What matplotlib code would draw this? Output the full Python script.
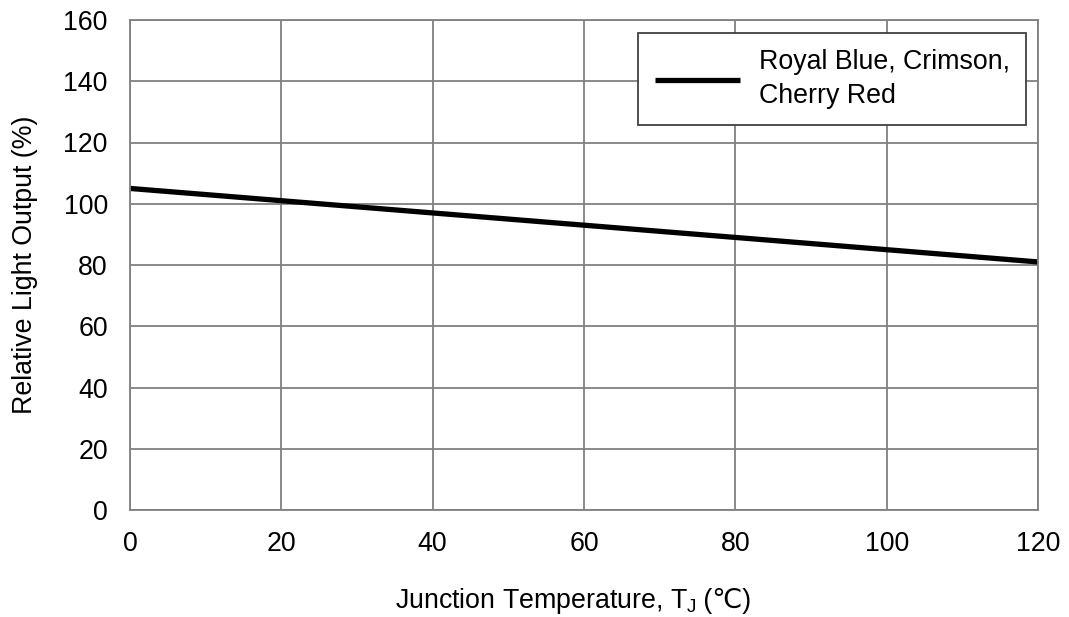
import matplotlib
matplotlib.use("Agg")
import matplotlib.pyplot as plt
from matplotlib.offsetbox import TextArea, HPacker, AnnotationBbox

temps = [0, 120]
light_output = [105, 81]
series_label = "Royal Blue, Crimson,\nCherry Red"
x_ticks = [0, 20, 40, 60, 80, 100, 120]
y_ticks = [0, 20, 40, 60, 80, 100, 120, 140, 160]

plt.rcParams['font.family'] = ['Liberation Sans', 'DejaVu Sans']
plt.rcParams['mathtext.fontset'] = 'custom'
plt.rcParams['mathtext.rm'] = 'Liberation Sans'
plt.rcParams['mathtext.it'] = 'Liberation Sans'

FS = 19.3

fig = plt.figure(figsize=(10.69, 6.17), dpi=100)
ax = fig.add_axes([130/1069, 1-510/617, 908/1069, 490/617])

ax.plot(temps, light_output, color='black', lw=3.8, label=series_label, solid_capstyle='butt')
ax.set_xlim(0, 120)
ax.set_ylim(0, 160)
ax.set_xticks(x_ticks)
ax.set_yticks(y_ticks)
ax.grid(True, color='#808080', lw=1.3)
ax.set_axisbelow(True)
for s in ax.spines.values():
    s.set_color('#808080')
    s.set_linewidth(1.3)
ax.tick_params(length=0, labelsize=FS, colors='black')
ax.tick_params(axis='x', pad=15)
ax.tick_params(axis='y', pad=16)

ax.set_ylabel('Relative Light Output (%)', fontsize=FS, labelpad=18)

# x label built from pieces so the degree-Celsius sign can fall back to DejaVu Sans
part1 = TextArea('Junction Temperature, T$_{\\mathrm{J}}$', textprops=dict(fontsize=FS))
part2 = TextArea(' (\u2103)', textprops=dict(fontsize=FS, family=['Liberation Sans', 'DejaVu Sans']))
label_box = HPacker(children=[part1, part2], align='baseline', pad=0, sep=0)
ab = AnnotationBbox(label_box, (573/1069, 1-601/617), xycoords='figure fraction',
                    frameon=False, box_alignment=(0.5, 0.5), pad=0)
fig.add_artist(ab)

leg = ax.legend(loc='upper right', bbox_to_anchor=(0.987, 0.973), fontsize=FS,
                fancybox=False, framealpha=1, edgecolor='#404040', handlelength=3.2,
                borderpad=0.6, handletextpad=0.7, borderaxespad=0)
leg.get_frame().set_linewidth(1.3)
for t in leg.get_texts():
    t.set_linespacing(1.4)

fig.savefig('out.png', dpi=100)
